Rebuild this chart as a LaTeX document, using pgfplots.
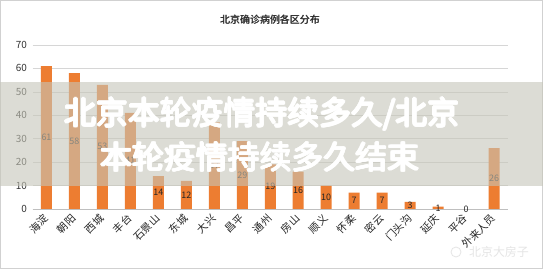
\documentclass[border=0pt]{standalone}
\usepackage{pgfplots}
\pgfplotsset{compat=1.18}
\usepackage{fontspec}
\setmainfont{Noto Sans CJK SC}
\definecolor{barorange}{HTML}{ED7D31}
\definecolor{bandgray}{RGB}{198,198,185}
\begin{document}
\begin{tikzpicture}
\useasboundingbox (0,0) rectangle (543bp,269bp);
\fill[white] (0,0) rectangle (543bp,269bp);
\draw[black!18, line width=0.8pt] (0.6bp,0.6bp) rectangle (542.4bp,268.4bp);
\foreach \dx in {-0.25,0.25}{
\node[font=\fontsize{10}{12}\selectfont, text=black!85] at ([xshift=\dx bp]270bp,249bp) {北京确诊病例各区分布};
}
\begin{axis}[
  at={(32.5bp,60bp)}, anchor=south west,
  scale only axis, width=475.5bp, height=164bp,
  xmin=-0.5, xmax=16.5, ymin=0, ymax=70,
  ytick={0,10,...,70},
  ymajorgrids, grid style={draw=black!16, line width=0.7pt},
  separate axis lines,
  axis x line*=bottom,
  x axis line style={draw=black!25, line width=0.8pt, -},
  y axis line style={draw=none},
  axis y line*=left,
  major tick length=0pt,
  xtick={0,...,16},
  xticklabels={海淀,朝阳,西城,丰台,石景山,东城,大兴,昌平,通州,房山,顺义,怀柔,密云,门头沟,延庆,平谷,外来人员},
  xticklabel style={font=\fontsize{10.5}{12}\selectfont, text=black!85, yshift=-5bp, xshift=2bp, rotate=45, anchor=east},
  yticklabel style={font=\fontsize{10}{12}\selectfont, text=black!80, xshift=-2bp},
  /pgf/number format/assume math mode=true,
  ybar, bar width=11bp,
  nodes near coords,
  visualization depends on={-rawy*1.1714 \as \sh},
  every node near coord/.append style={font=\fontsize{9}{10}\selectfont, text=black!85, anchor=center, yshift=\sh pt},
]
\addplot[fill=barorange, draw=none] coordinates {
(0,61) (1,58) (2,53) (3,41) (4,14) (5,12) (6,37) (7,29) (8,19) (9,16) (10,10) (11,7) (12,7) (13,3) (14,1) (15,0) (16,26)
};
\end{axis}
\fill[bandgray, opacity=0.6] (0,83bp) rectangle (543bp,187bp);
\foreach \dx/\dy in {-0.8/0,0.8/0,0/-0.8,0/0.8,-0.6/-0.6,0.6/0.6,-0.6/0.6,0.6/-0.6,0/0}{
\node[white, font=\fontsize{32}{36}\selectfont] at ([xshift=\dx bp, yshift=\dy bp]262bp,155bp) {北京本轮疫情持续多久/北京};
\node[white, font=\fontsize{32}{36}\selectfont] at ([xshift=\dx bp, yshift=\dy bp]260bp,112bp) {本轮疫情持续多久结束};
}
\node[text=black!10, font=\fontsize{12}{14}\selectfont] at (499bp,17bp) {北京大房子};
\draw[black!10, line width=0.8pt] (456bp,17bp) circle (5bp);
\end{tikzpicture}
\end{document}
